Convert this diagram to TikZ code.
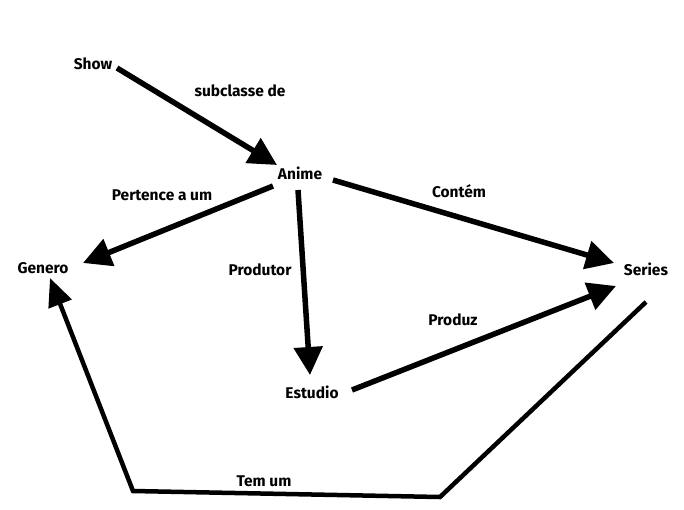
\documentclass[tikz,border=0pt]{standalone}
\usepackage{fontspec}
\setmainfont{Fira Sans}
\usetikzlibrary{arrows.meta}
\begin{document}
\begin{tikzpicture}[x=1pt,y=-1pt,
  lbl/.style={font=\fontsize{15.5}{18}\selectfont\bfseries, inner sep=0pt},
  conn/.style={line width=5.5pt, -{Triangle[length=28pt,width=28pt]}},
  plain/.style={line width=4.5pt, line join=miter}]
\useasboundingbox (0,0) rectangle (684,509);
% nodes
\node[lbl] (show) at (93,64) {Show};
\node[lbl] (anime) at (300,173) {Anime};
\node[lbl] (genero) at (43,268) {Genero};
\node[lbl] (estudio) at (312,392) {Estudio};
\node[lbl] (series) at (646,269) {Series};
% labels
\node[lbl] (l1) at (240,91) {subclasse de};
\node[lbl] (l2) at (162,195) {Pertence a um};
\node[lbl] (l3) at (459,191) {Contém};
\node[lbl] (l4) at (260,270) {Produtor};
\node[lbl] (l5) at (453,320) {Produz};
\node[lbl] (l6) at (264,481) {Tem um};
% bend points
\coordinate (b1) at (440,497);
\coordinate (b2) at (133,491);
% connectors
\draw[conn] ([shift={(24,4)}]show.center) -- ([shift={(-23,-8)}]anime.center);
\draw[conn] ([shift={(-27,13)}]anime.center) -- ([shift={(40,-5)}]genero.center);
\draw[conn] ([shift={(-2,17)}]anime.center) -- ([shift={(-2,-17)}]estudio.center);
\draw[conn] ([shift={(33,7)}]anime.center) -- ([shift={(-32,-6)}]series.center);
\draw[conn] ([shift={(40,-2)}]estudio.center) -- ([shift={(-30,17)}]series.center);
\draw[plain, -{Triangle[length=28pt,width=24pt]}] ([shift={(0,33)}]series.center) -- (b1) -- (b2) -- ([shift={(7,10)}]genero.center);
\end{tikzpicture}
\end{document}
